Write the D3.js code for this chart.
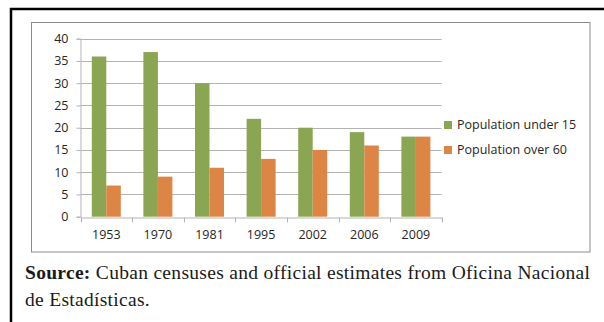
<!DOCTYPE html>
<html><head><meta charset="utf-8">
<script src="https://cdn.jsdelivr.net/npm/d3@7"></script>
<style>
html,body{margin:0;padding:0;background:#fff;}
svg{display:block;}
</style>
</head><body>
<svg id="c" width="604" height="322"></svg>
<script>
const years = ["1953","1970","1981","1995","2002","2006","2009"];
const under15 = [36, 37, 30, 22, 20, 19, 18];
const over60 = [7, 9, 11, 13, 15, 16, 18];
const seriesNames = ["Population under 15","Population over 60"];
const seriesColors = ["#8aa652","#dd8544"];
const yTicks = [0,5,10,15,20,25,30,35,40];

(function(){
const svg = d3.select("#c");
// outer black frame (top + left visible)
svg.append("line").attr("x1",10).attr("x2",604).attr("y1",9).attr("y2",9).attr("stroke","#000").attr("stroke-width",2.5);
svg.append("line").attr("x1",11).attr("x2",11).attr("y1",8).attr("y2",322).attr("stroke","#000").attr("stroke-width",2.5);
// chart area frame
svg.append("rect").attr("x",31.5).attr("y",22.5).attr("width",558.5).attr("height",229.5)
  .attr("fill","#fff").attr("stroke","#8c8c8c").attr("stroke-width",1);

const pL = 80.5, pR = 441.7, pT = 38.7, pB = 216.7;
const x = d3.scaleBand().domain(years).range([pL, pR]);
const y = d3.scaleLinear().domain([0,40]).range([pB, pT]);
const inner = d3.scaleBand().domain([0,1]).range([0, 29]);

// gridlines
svg.append("g").selectAll("line").data(yTicks.filter(d=>d>0)).join("line")
  .attr("x1",pL).attr("x2",pR)
  .attr("y1",d=>Math.round(y(d))+0.5).attr("y2",d=>Math.round(y(d))+0.5)
  .attr("stroke","#b3b3b3").attr("stroke-width",1);

// y axis
const yAxis = d3.axisLeft(y).tickValues(yTicks).tickSize(4).tickPadding(8);
const gy = svg.append("g").attr("transform",`translate(${pL},0)`).call(yAxis);
gy.select(".domain").attr("stroke","#b3b3b3");
gy.selectAll(".tick line").attr("stroke","#b3b3b3");
gy.selectAll("text").attr("font-family","Open Sans, sans-serif").attr("font-size",12.5).attr("fill","#262626");

// x axis
const xAxis = d3.axisBottom(x).tickSize(0).tickPadding(13);
const gx = svg.append("g").attr("transform",`translate(0,${Math.round(pB)+0.5})`).call(xAxis);
gx.select(".domain").attr("stroke","#b3b3b3");
gx.selectAll("text").attr("font-family","Open Sans, sans-serif").attr("font-size",12.5).attr("fill","#262626");
// category boundary ticks
const bounds = years.map(d=>x(d)).concat([pR]);
gx.append("g").selectAll("line").data(bounds).join("line")
  .attr("x1",d=>Math.round(d)+0.5).attr("x2",d=>Math.round(d)+0.5).attr("y1",0).attr("y2",5)
  .attr("stroke","#b3b3b3");

// bars
const series = [under15, over60];
series.forEach((vals, si) => {
  svg.append("g").selectAll("rect").data(vals).join("rect")
    .attr("x", (d,i) => x(years[i]) + (x.bandwidth()-29)/2 + inner(si))
    .attr("width", inner.bandwidth())
    .attr("y", d => y(d))
    .attr("height", d => y(0) - y(d))
    .attr("fill", seriesColors[si]);
});

// legend
const lg = svg.append("g");
seriesNames.forEach((n, i) => {
  const cy = 125 + i*25;
  lg.append("rect").attr("x",444).attr("y",cy-4).attr("width",8).attr("height",8).attr("fill",seriesColors[i]);
  lg.append("text").attr("x",457).attr("y",cy).attr("dy","0.35em")
    .attr("font-family","Open Sans, sans-serif").attr("font-size",12.5).attr("fill","#262626").text(n);
});

// source
const src = svg.append("g").attr("font-family","Liberation Serif, serif").attr("font-size",19.5)
  .attr("letter-spacing","0.3px").attr("fill","#1a1a1a");
const t1 = src.append("text").attr("x",25).attr("y",279);
t1.append("tspan").attr("font-weight","bold").text("Source:");
t1.append("tspan").text(" Cuban censuses and official estimates from Oficina Nacional");
src.append("text").attr("x",25).attr("y",306).text("de Estadísticas.");
})();
</script>
</body></html>
